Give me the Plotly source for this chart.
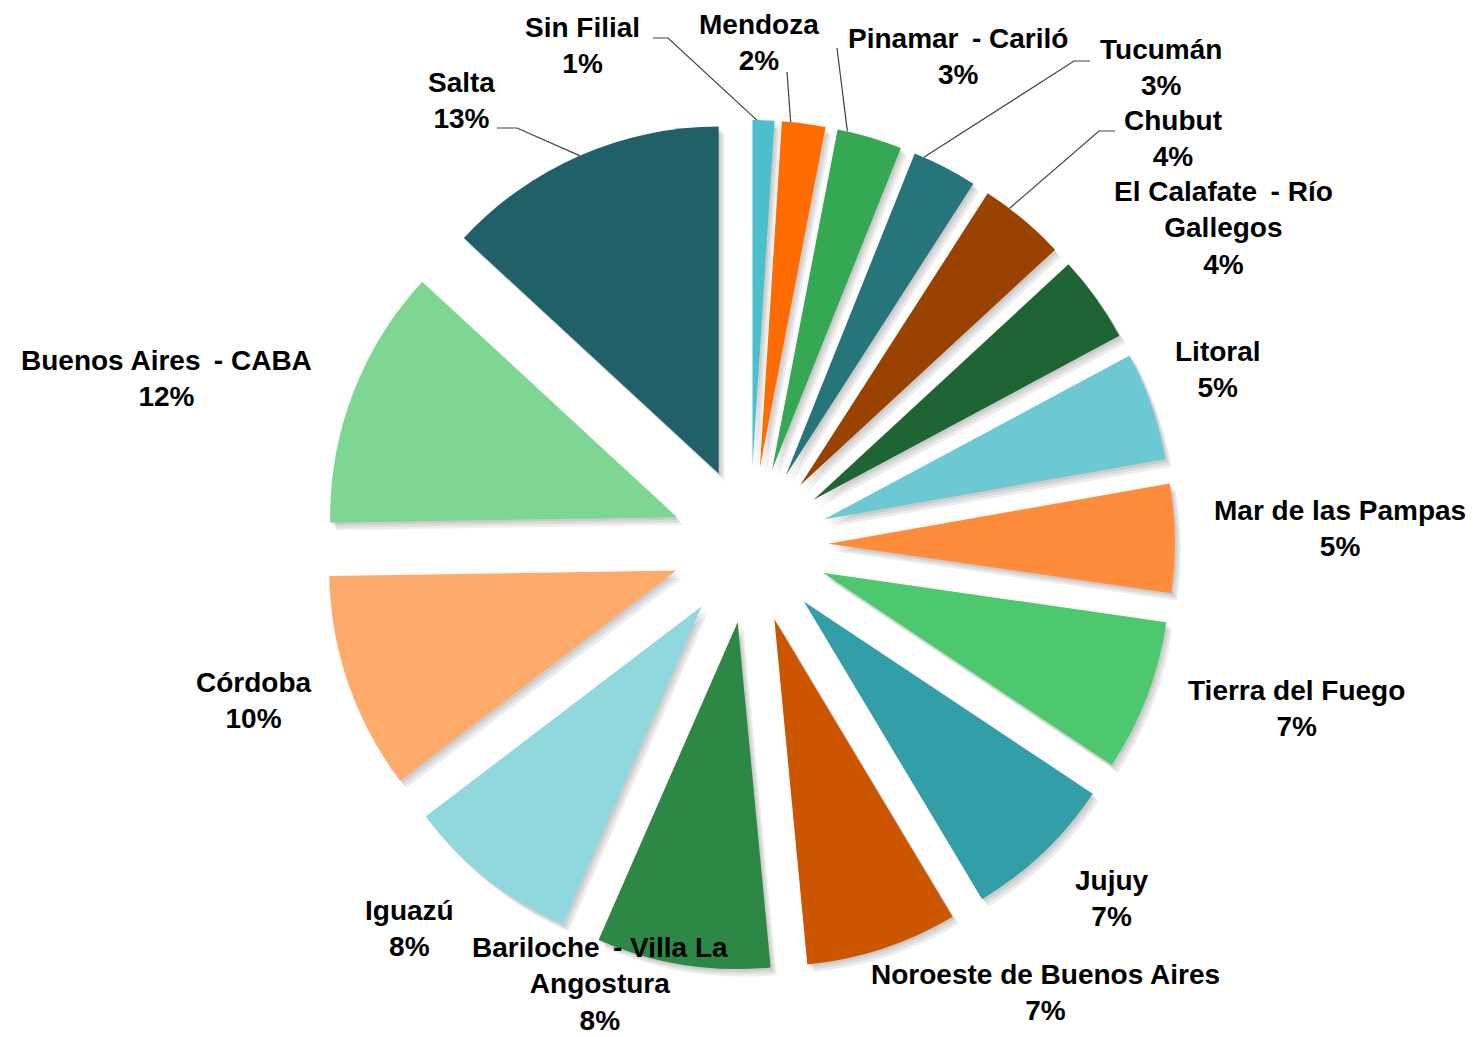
import math
import plotly.graph_objects as go

labels = ["Sin Filial", "Mendoza", "Pinamar - Cariló", "Tucumán", "Chubut",
          "El Calafate - Río Gallegos", "Litoral", "Mar de las Pampas",
          "Tierra del Fuego", "Jujuy", "Noroeste de Buenos Aires",
          "Bariloche - Villa La Angostura", "Iguazú", "Córdoba",
          "Buenos Aires - CABA", "Salta"]
values = [1, 2, 3, 3, 4, 4, 5, 5, 7, 7, 7, 8, 8, 10, 12, 13]
colors = ["#4BC0CC", "#FF6D00", "#35A853", "#26757A", "#9A4300",
          "#1F6533", "#6CC9D3", "#FF8C3A", "#4EC86F", "#339DA8",
          "#CC5500", "#2D8845", "#90D7DE", "#FFA96B", "#7ED693",
          "#206068"]

W, H = 1479, 1037
CX, CY = 742, 537      # pie centre in figure px
BOX = 850              # pie box, pull included
PULL = 0.225
R = BOX / (2 + 2 * PULL)
OFF = 8                # page margin of the html body


def paper(x, y):
    # page px -> paper fraction
    return (x - OFF) / W, 1 - (y - OFF) / H


def domain(dx=0, dy=0):
    return dict(x=[(CX - BOX / 2 + dx) / W, (CX + BOX / 2 + dx) / W],
                y=[1 - (CY + BOX / 2 + dy) / H, 1 - (CY - BOX / 2 + dy) / H])


# label block centres (page px)
label_pos = {
    "Sin Filial": (582, 45), "Mendoza": (759, 43), "Pinamar - Cariló": (958, 56),
    "Tucumán": (1161, 68), "Chubut": (1173, 138),
    "El Calafate - Río Gallegos": (1223, 228), "Litoral": (1218, 370),
    "Mar de las Pampas": (1340, 528), "Tierra del Fuego": (1296, 708),
    "Jujuy": (1112, 898), "Noroeste de Buenos Aires": (1045, 992),
    "Bariloche - Villa La Angostura": (600, 984), "Iguazú": (409, 928),
    "Córdoba": (254, 700), "Buenos Aires - CABA": (166, 378), "Salta": (461, 101),
}
# leader lines: elbow points (page px) and where along the slice the tip sits
leaders = {
    "Sin Filial": ([(653, 38), (668, 38)], 0.2),
    "Mendoza": ([(787, 72)], 0.2),
    "Pinamar - Cariló": ([(837, 48)], 0.15),
    "Tucumán": ([(1090, 61), (1074, 61)], 0.15),
    "Chubut": ([(1115, 131), (1099, 131)], 0.3),
    "Salta": ([(497, 128), (517, 128)], 0.5),
}
wrap = {"El Calafate - Río Gallegos": "El Calafate\u2009 - Río<br>Gallegos",
        "Bariloche - Villa La Angostura": "Bariloche\u2009 - Villa La<br>Angostura",
        "Pinamar - Cariló": "Pinamar\u2009 - Cariló",
        "Buenos Aires - CABA": "Buenos Aires\u2009 - CABA"}

fig = go.Figure()

# soft drop shadow: a few faint grey copies shifted down-right
for k in (1, 2, 3):
    fig.add_trace(go.Pie(
        values=values, labels=labels, sort=False, direction="clockwise",
        rotation=0, pull=PULL, domain=domain(2 * k, 2.5 * k),
        marker=dict(colors=["rgba(0,0,0,0.07)"] * len(values), line=dict(width=0)),
        textinfo="none", hoverinfo="skip", showlegend=False,
    ))

fig.add_trace(go.Pie(
    labels=labels, values=values, sort=False, direction="clockwise",
    rotation=0, pull=PULL, domain=domain(),
    marker=dict(colors=colors, line=dict(width=0)),
    textinfo="none", hoverinfo="label+value", showlegend=False,
))

total = sum(values)
cum = 0
shapes, annotations = [], []
for lab, v in zip(labels, values):
    start = cum
    cum += v
    tx, ty = label_pos[lab]
    annotations.append(dict(
        x=paper(tx, ty)[0], y=paper(tx, ty)[1], xref="paper", yref="paper",
        text="<b>%s<br>%d%%</b>" % (wrap.get(lab, lab), v), showarrow=False,
        xanchor="center", yanchor="middle", align="center",
        font=dict(family="Liberation Sans, Arial", size=28, color="#000000"),
    ))
    if lab in leaders:
        pts, frac = leaders[lab]
        ang = (start + v * frac) / total * 2 * math.pi
        mid = (start + v / 2) / total * 2 * math.pi
        # tip on the outer edge of the pulled slice
        d = R * PULL
        tip = (CX + OFF + R * math.sin(ang) + d * math.sin(mid),
               CY + OFF - R * math.cos(ang) - d * math.cos(mid))
        path = "M " + " L ".join("%f,%f" % paper(*p) for p in pts + [tip])
        shapes.append(dict(type="path", path=path, xref="paper", yref="paper",
                           line=dict(color="#404040", width=1.2)))

fig.update_layout(
    width=W, height=H,
    margin=dict(l=0, r=0, t=0, b=0),
    paper_bgcolor="white",
    plot_bgcolor="white",
    shapes=shapes,
    annotations=annotations,
)

fig.write_html("out.html")
